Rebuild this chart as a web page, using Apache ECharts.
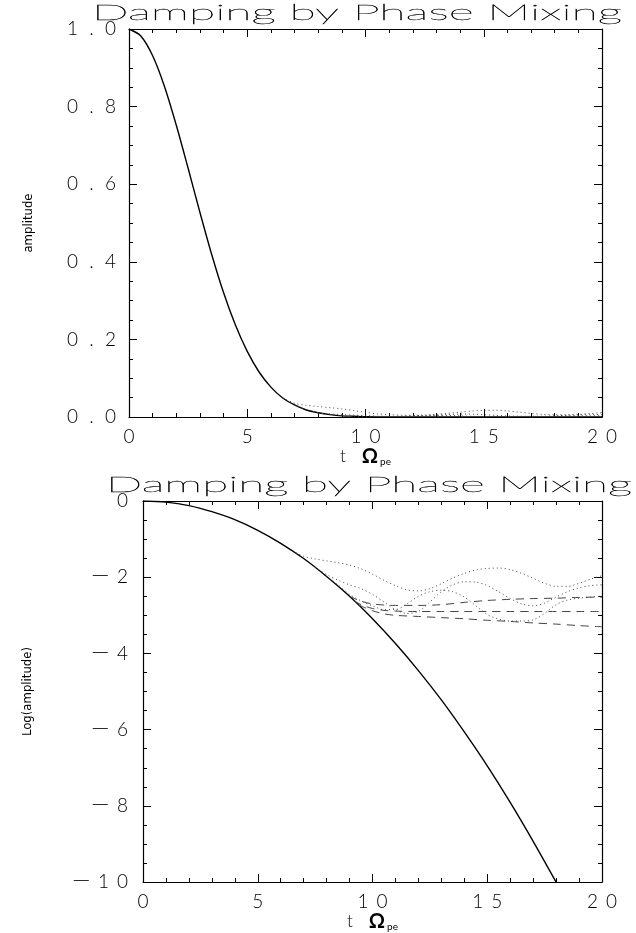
<!DOCTYPE html>
<html><head><meta charset="utf-8">
<script src="https://cdn.jsdelivr.net/npm/echarts@6/dist/echarts.min.js"></script>
<style>html,body{margin:0;padding:0;background:#fff}#c{width:636px;height:933px}</style>
</head><body><div id="c"></div>
<script>
// ---------- data ----------
const titleText = 'Damping by Phase Mixing';
const topYName = 'amplitude';
const botYName = 'Log(amplitude)';

// top panel: linear amplitude
const topT = [0,0.5,1,1.5,2,2.5,3,3.5,4,4.5,5,5.5,6,6.5,7,7.5,8,8.5,9,9.5,10,11,12,13,14,15,16,17,18,19,20];
const topSolid = [1,0.982,0.931,0.852,0.752,0.641,0.527,0.418,0.32,0.237,0.169,0.116,0.077,0.049,0.031,0.018,0.011,0.006,0.003,0.002,0.001,0,0,0,0,0,0,0,0,0,0];
const topDot1T = [6.5,7,7.5,8,8.5,9,9.5,10,10.5,11,11.5,12,12.5,13,13.5,14,14.5,15,15.5,16,16.5,17,17.5,18,18.5,19,19.5,20];
const topDot1 = [0.049,0.0355,0.03,0.027,0.024,0.021,0.0166,0.012,0.0083,0.006,0.0047,0.0044,0.005,0.0068,0.0095,0.0126,0.0155,0.017,0.0174,0.0158,0.0126,0.0093,0.0069,0.0058,0.0058,0.0069,0.0089,0.011];
const topDot2T = [7,7.5,8,8.5,9,9.5,10,10.5,11,11.5,12,12.5,13,13.5,14,14.5,15,15.5,16,16.5,17,17.5,18,18.5,19,19.5,20];
const topDot2 = [0.031,0.0178,0.0112,0.0079,0.0063,0.005,0.0035,0.0022,0.0014,0.0011,0.0013,0.0022,0.0042,0.0063,0.0076,0.0074,0.006,0.0042,0.0028,0.002,0.0018,0.0021,0.003,0.0042,0.0052,0.006,0.0063];
const topDot3T = [8,8.5,9,9.5,10,10.5,11,11.5,12,12.5,13,13.5,14,14.5,15,15.5,16,16.5,17,17.5,18,18.5,19,19.5,20];
const topDot3 = [0.0105,0.0063,0.0035,0.0024,0.0018,0.0014,0.0014,0.002,0.0032,0.0042,0.0046,0.0042,0.003,0.0018,0.001,0.0008,0.0007,0.0007,0.0008,0.0011,0.0019,0.0025,0.0028,0.003,0.0032];

// bottom panel: log10 amplitude
const botSolidT = [0,1,2,3,4,5,6,7,8,9,10,11,12,13,14,15,16,17,18];
const botSolid = [0,-0.03,-0.12,-0.28,-0.49,-0.77,-1.11,-1.51,-1.98,-2.5,-3.09,-3.74,-4.45,-5.22,-6.06,-6.95,-7.91,-8.93,-10.0];
const botDot1T = [6.5,7,7.5,8,8.5,9,9.5,10,10.5,11,11.5,12,12.5,13,13.5,14,14.5,15,15.5,16,16.5,17,17.5,18,18.5,19,19.5,20];
const botDot1 = [-1.31,-1.45,-1.52,-1.57,-1.62,-1.68,-1.78,-1.92,-2.08,-2.22,-2.33,-2.36,-2.3,-2.17,-2.02,-1.9,-1.81,-1.77,-1.76,-1.8,-1.9,-2.03,-2.16,-2.24,-2.24,-2.16,-2.05,-1.96];
const botDot2T = [7.5,8,8.5,9,9.5,10,10.5,11,11.5,12,12.5,13,13.5,14,14.5,15,15.5,16,16.5,17,17.5,18,18.5,19,19.5,20];
const botDot2 = [-1.74,-1.93,-2.08,-2.2,-2.3,-2.45,-2.65,-2.85,-2.95,-2.9,-2.65,-2.38,-2.2,-2.12,-2.13,-2.22,-2.38,-2.56,-2.7,-2.75,-2.68,-2.52,-2.38,-2.28,-2.22,-2.2];
const botDot3T = [8,8.5,9,9.5,10,10.5,11,11.5,12,12.5,13,13.5,14,14.5,15,15.5,16,16.5,17,17.5,18,18.5,19,19.5,20];
const botDot3 = [-1.98,-2.2,-2.45,-2.62,-2.75,-2.85,-2.85,-2.7,-2.5,-2.38,-2.34,-2.38,-2.52,-2.75,-2.98,-3.1,-3.15,-3.15,-3.12,-2.95,-2.72,-2.6,-2.55,-2.52,-2.5];
const botDashAT = [9,9.5,10,10.5,11,12,13,14,15,16,17,18,19,20];
const botDashA = [-2.5,-2.63,-2.7,-2.73,-2.74,-2.74,-2.72,-2.66,-2.61,-2.58,-2.56,-2.55,-2.53,-2.52];
const botDashBT = [9.2,9.5,10,10.5,11,12,13,14,15,16,17,18,19,20];
const botDashB = [-2.62,-2.72,-2.82,-2.87,-2.89,-2.9,-2.9,-2.9,-2.9,-2.9,-2.9,-2.9,-2.9,-2.9];
const botDashCT = [9.4,10,10.5,11,12,13,14,15,16,17,18,19,20];
const botDashC = [-2.73,-2.88,-2.96,-3.0,-3.03,-3.06,-3.09,-3.13,-3.16,-3.2,-3.23,-3.27,-3.3];

// ---------- helpers ----------
const FONT = 'Lato, "DejaVu Sans", sans-serif';
const TITLE_FONT = '200 21px Lato, "DejaVu Sans", sans-serif';
const pairs = (xs, ys) => xs.map((x, i) => [x, ys[i]]);
function spaced(s) {
  return s.split('').map(c => c === '\u2212' ? '{m|\u2212}' : '{d|' + c + '}').join('');
}
const labelRich = {
  d: {width: 19, align: 'center', fontSize: 19, fontFamily: FONT, fontWeight: 300, color: '#000'},
  m: {width: 26, align: 'center', fontSize: 24, fontFamily: '"DejaVu Sans", sans-serif', fontWeight: 200, color: '#222'}
};
const fmtInt = v => spaced((v < 0 ? '\u2212' : '') + String(Math.abs(Math.round(v))));
const fmtOne = v => spaced(v.toFixed(1));

const xName = '{t|t}{sp| }{o|\u03A9}{s|pe}';
const xNameStyle = {rich: {
  t: {fontSize: 17, fontFamily: FONT, fontWeight: 300, color: '#000'},
  sp: {width: 16},
  o: {fontSize: 20, fontFamily: FONT, fontWeight: 'bold', color: '#000'},
  s: {fontSize: 10, fontFamily: FONT, color: '#000', verticalAlign: 'bottom', padding: [9, 0, 0, 2]}
}};

// width-fit scale for the titles (Hershey-like wide lettering)
const mctx = document.createElement('canvas').getContext('2d');
mctx.font = TITLE_FONT;
const titleW = mctx.measureText(titleText).width;

function xAx(grid, pos, main) {
  return {
    type: 'value', gridIndex: grid, position: pos, min: 0, max: 20, interval: 5,
    name: main ? xName : '', nameLocation: 'middle', nameGap: 29, nameTextStyle: xNameStyle,
    axisLine: {show: true, onZero: false, lineStyle: {color: '#000', width: 1.2}},
    axisTick: {show: true, inside: true, length: 8, lineStyle: {color: '#000', width: 1}},
    minorTick: {show: true, splitNumber: 5, length: 4, lineStyle: {color: '#000', width: 1}},
    splitLine: {show: false}, minorSplitLine: {show: false},
    axisLabel: {show: main, margin: 10, formatter: fmtInt, rich: labelRich}
  };
}
function yAx(grid, pos, main, min, max, interval, fmt, name, gap, margin) {
  return {
    type: 'value', gridIndex: grid, position: pos, min, max, interval,
    name: main ? name : '', nameLocation: 'middle', nameRotate: 90, nameGap: gap,
    nameTextStyle: {fontFamily: '"DejaVu Sans Condensed", "Liberation Sans Narrow", sans-serif', fontSize: 13, color: '#000'},
    axisLine: {show: true, onZero: false, lineStyle: {color: '#000', width: 1.2}},
    axisTick: {show: true, inside: true, length: 8, lineStyle: {color: '#000', width: 1}},
    minorTick: {show: true, splitNumber: 4, length: 4, lineStyle: {color: '#000', width: 1}},
    splitLine: {show: false}, minorSplitLine: {show: false},
    axisLabel: {show: main, margin, formatter: fmt, rich: labelRich}
  };
}
function line(data, xi, yi, style) {
  return {type: 'line', data, xAxisIndex: xi, yAxisIndex: yi, showSymbol: false, symbol: 'none',
    smooth: 0.3, animation: false, lineStyle: style, silent: true};
}
const solidS = {color: '#000', width: 1.4, type: 'solid'};
const dotS = {color: '#444', width: 1, type: [1, 3]};
const dashS = {color: '#444', width: 1, type: [8, 6]};
const titleStyle = {text: titleText, font: TITLE_FONT, fill: '#000', stroke: '#000', lineWidth: 0.3, verticalAlign: 'middle'};

const chart = echarts.init(document.getElementById('c'), null, {renderer: 'canvas'});
chart.setOption({
  animation: false,
  backgroundColor: '#fff',
  graphic: [
    {type: 'text', x: 92, y: 13, scaleX: 530 / titleW, style: titleStyle},
    {type: 'text', x: 106, y: 485, scaleX: 526 / titleW, style: titleStyle}
  ],
  grid: [
    {left: 129, top: 29, width: 473, height: 388, containLabel: false},
    {left: 143, top: 501, width: 459, height: 388, containLabel: false}
  ],
  xAxis: [xAx(0, 'bottom', true), xAx(0, 'top', false), xAx(1, 'bottom', true), xAx(1, 'top', false)],
  yAxis: [
    yAx(0, 'left', true, 0, 1, 0.2, fmtOne, topYName, 94, 9),
    yAx(0, 'right', false, 0, 1, 0.2, fmtOne, '', 0, 0),
    yAx(1, 'left', true, -10, 0, 2, fmtInt, botYName, 109, 11),
    yAx(1, 'right', false, -10, 0, 2, fmtInt, '', 0, 0)
  ],
  series: [
    line(pairs(topT, topSolid), 0, 0, solidS),
    line(pairs(topDot1T, topDot1), 0, 0, dotS),
    line(pairs(topDot2T, topDot2), 0, 0, dotS),
    line(pairs(topDot3T, topDot3), 0, 0, dotS),
    line(pairs(botSolidT, botSolid), 2, 2, solidS),
    line(pairs(botDot1T, botDot1), 2, 2, dotS),
    line(pairs(botDot2T, botDot2), 2, 2, dotS),
    line(pairs(botDot3T, botDot3), 2, 2, dotS),
    line(pairs(botDashAT, botDashA), 2, 2, dashS),
    line(pairs(botDashBT, botDashB), 2, 2, dashS),
    line(pairs(botDashCT, botDashC), 2, 2, dashS)
  ]
});
</script></body></html>
